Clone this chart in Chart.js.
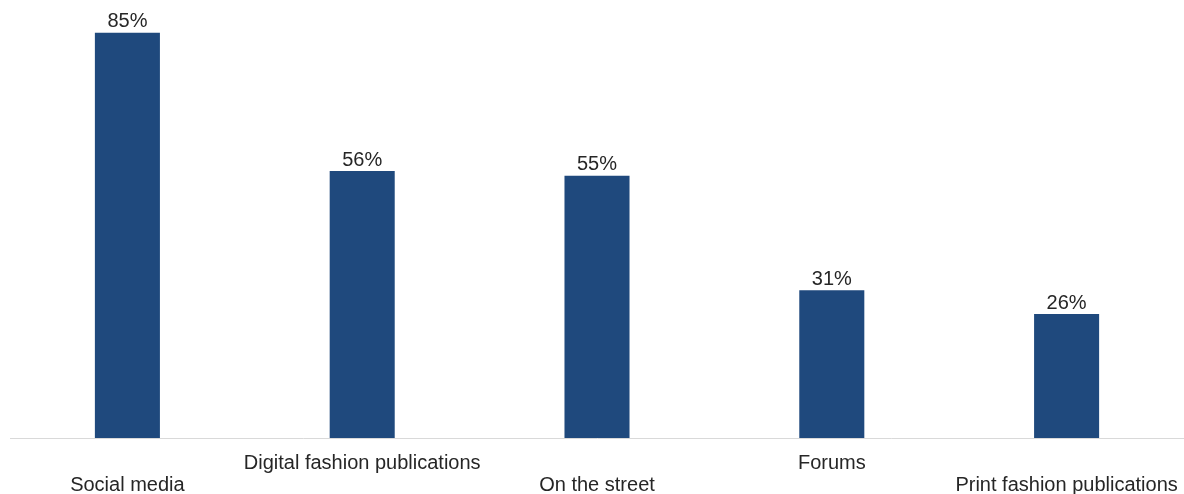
<!DOCTYPE html>
<html>
<head>
<meta charset="utf-8">
<style>
  html, body { margin: 0; padding: 0; background: #fff; }
  #wrap { width: 1184px; height: 494px; }
</style>
<script src="https://cdn.jsdelivr.net/npm/chart.js@4/dist/chart.umd.min.js"></script>
</head>
<body>
<div id="wrap"><canvas id="bar-chart"></canvas></div>
<script>
// chart data
var categories = ["Social media", "Digital fashion publications", "On the street", "Forums", "Print fashion publications"];
var shares = [85, 56, 55, 31, 26];

// staggered labels: even ones on the lower line, odd ones on the upper line
var labels = categories.map(function (c, i) {
    return i % 2 == 0 ? ["", c] : [c, ""];
});

// draws "85%" etc above each bar
var valueLabels = {
    id: 'valueLabels',
    afterDatasetsDraw: function (chart) {
        var ctx = chart.ctx;
        var meta = chart.getDatasetMeta(0);
        ctx.save();
        ctx.font = '20px "Liberation Sans", Arial, sans-serif';
        ctx.fillStyle = '#262626';
        ctx.textAlign = 'center';
        ctx.textBaseline = 'bottom';
        meta.data.forEach(function (bar, i) {
            ctx.fillText(shares[i] + '%', bar.x, bar.y - 1);
        });
        ctx.restore();
    }
};

const ctx = document.getElementById('bar-chart').getContext('2d');
new Chart(ctx, {
    type: 'bar',
    data: {
        labels: labels,
        datasets: [{
            data: shares,
            backgroundColor: '#1f497d',
            borderWidth: 0,
            categoryPercentage: 1,
            barPercentage: 0.277
        }]
    },
    options: {
        responsive: true,
        maintainAspectRatio: false,
        animation: false,
        layout: { padding: { top: 9, left: 10, right: 0, bottom: 0 } },
        plugins: {
            legend: { display: false },
            tooltip: { enabled: false }
        },
        scales: {
            x: {
                grid: { display: false, drawTicks: false },
                border: { display: true, color: '#d9d9d9', width: 1 },
                afterFit: function (scale) {
                    scale.height = 56; // keep the baseline at y=438
                    scale.paddingLeft = 0;
                    scale.paddingRight = 0; // last label may run to the edge
                },
                ticks: {
                    padding: 14,
                    color: '#262626',
                    maxRotation: 0,
                    autoSkip: false,
                    font: { family: '"Liberation Sans", Arial, sans-serif', size: 20, lineHeight: 1.1 }
                }
            },
            y: {
                display: false,
                min: 0,
                max: 90
            }
        }
    },
    plugins: [valueLabels]
});
</script>
</body>
</html>
